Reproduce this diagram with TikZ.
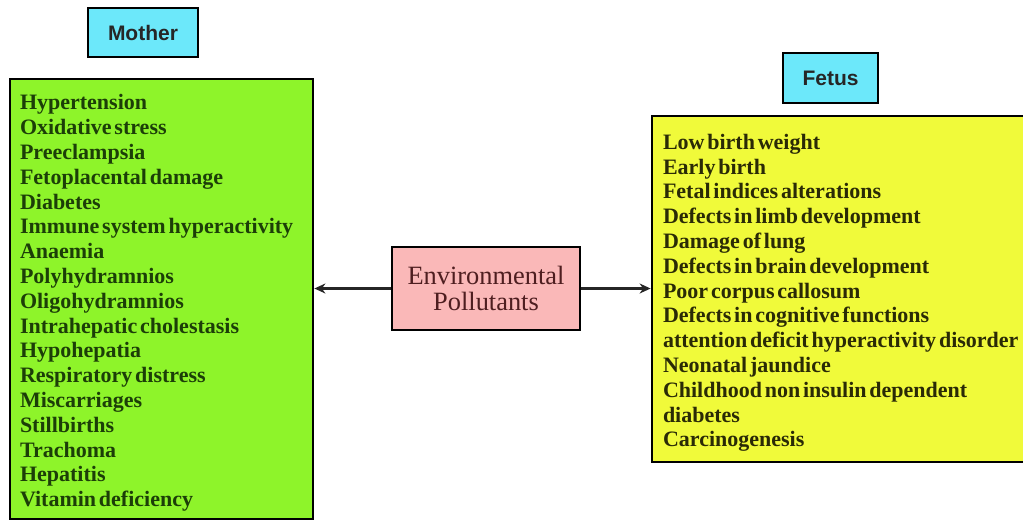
\documentclass[tikz,border=0pt]{standalone}
\usepackage{fontspec}
\setmainfont{Liberation Serif}
\setsansfont{Liberation Sans}
\usepackage{xcolor}
\usepackage{tikz}
\definecolor{headcyan}{RGB}{108, 232, 250}
\definecolor{mothergreen}{RGB}{142, 244, 42}
\definecolor{fetusyellow}{RGB}{240, 250, 58}
\definecolor{pollpink}{RGB}{250, 184, 184}
\definecolor{greentext}{RGB}{28, 62, 8}
\definecolor{olivetext}{RGB}{42, 42, 6}
\definecolor{maroontext}{RGB}{78, 30, 32}
\usetikzlibrary{arrows.meta,positioning,shadows}
% tight word spacing and a taller first line for the lists
\newcommand{\liststart}{\spaceskip=1.4pt plus 0.4pt\relax\hyphenpenalty=10000\relax\rule{0pt}{11.6pt}}

\begin{document}
\begin{tikzpicture}[x=0.5pt, y=-0.5pt]
    % Define styles
    \tikzstyle{header} = [rectangle, draw=black, line width=1.4pt, fill=headcyan, text=black!85,
                          font=\sffamily\bfseries\fontsize{10.5}{12}\selectfont, inner sep=0pt,
                          drop shadow={shadow xshift=0.5pt, shadow yshift=-0.5pt, fill=black!50}]
    \tikzstyle{listbox} = [rectangle, draw=black, line width=1.4pt, align=left, inner ysep=0pt,
                           font=\bfseries\fontsize{11}{12.4}\selectfont,
                           drop shadow={shadow xshift=0.6pt, shadow yshift=-0.6pt, fill=black!55}]
    \tikzstyle{pollbox} = [rectangle, draw=black, line width=1.4pt, fill=pollpink, text=maroontext,
                           align=center, font=\fontsize{13.2}{12.8}\selectfont,
                           minimum width=94pt, minimum height=41.5pt, inner sep=0pt,
                           drop shadow={shadow xshift=0.5pt, shadow yshift=-0.5pt, fill=black!50}]
    \tikzstyle{link} = [line width=1.3pt, draw=black!85, -{Stealth[length=5.5pt, width=5pt]}]

    \useasboundingbox (0,0) rectangle (1023,526);

    % Nodes
    \node[header, minimum width=55pt, minimum height=24.5pt] (mother) at (143,32.5) {Mother};
    \node[listbox, fill=mothergreen, text=greentext, inner xsep=5pt, text width=141.5pt,
          minimum width=151.5pt, minimum height=220pt] (maternal) at (161.5,299) {%
        \liststart Hypertension\\
        Oxidative stress\\
        Preeclampsia\\
        Fetoplacental damage\\
        Diabetes\\
        Immune system hyperactivity\\
        Anaemia\\
        Polyhydramnios\\
        Oligohydramnios\\
        Intrahepatic cholestasis\\
        Hypohepatia\\
        Respiratory distress\\
        Miscarriages\\
        Stillbirths\\
        Trachoma\\
        Hepatitis\\
        Vitamin deficiency};
    \node[pollbox] (pollutants) at (486,288.5) {Environmental\\Pollutants};
    \node[header, minimum width=47.5pt, minimum height=25pt] (fetus) at (830.5,78) {Fetus};
    \node[listbox, fill=fetusyellow, text=olivetext, inner xsep=5.5pt, text width=186pt,
          minimum width=197pt, minimum height=173pt] (fetal) at (849,289) {%
        \liststart Low birth weight\\
        Early birth\\
        Fetal indices alterations\\
        Defects in limb development\\
        Damage of lung\\
        Defects in brain development\\
        Poor corpus callosum\\
        Defects in cognitive functions\\
        attention deficit hyperactivity disorder\\
        Neonatal jaundice\\
        Childhood non insulin dependent\\
        diabetes\\
        Carcinogenesis};

    % Connections
    \draw[link] (pollutants.west) -- (pollutants.west -| maternal.east);
    \draw[link] (pollutants.east) -- (pollutants.east -| fetal.west);
\end{tikzpicture}
\end{document}
